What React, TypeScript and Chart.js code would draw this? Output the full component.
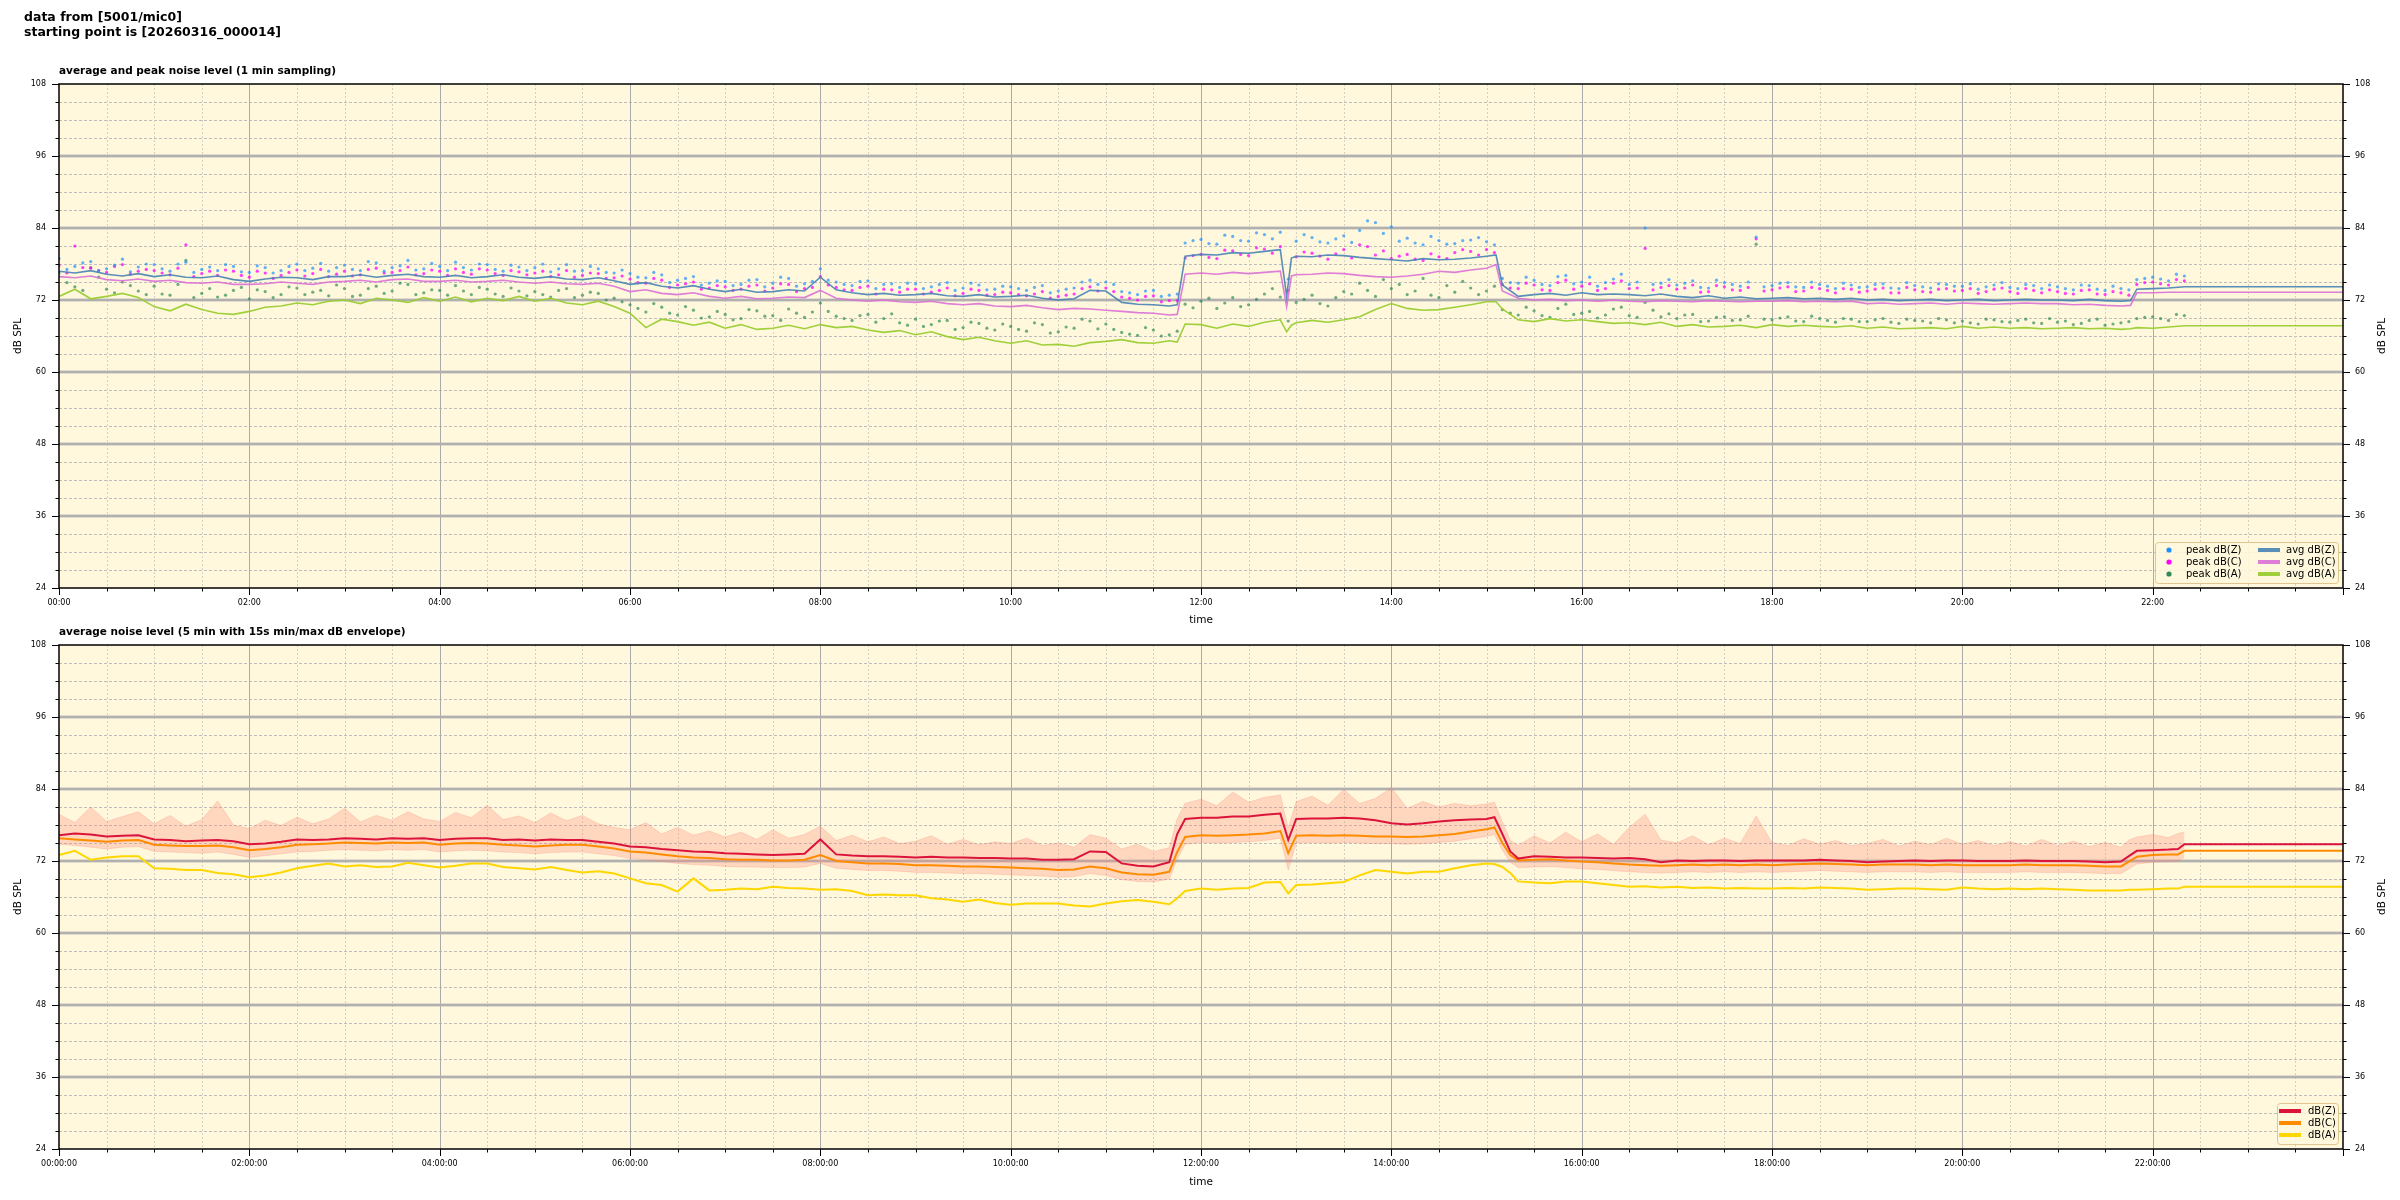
import React, { useEffect, useRef } from 'react';
import { Chart, registerables } from 'chart.js';
Chart.register(...registerables);

const FONT = '"DejaVu Sans", sans-serif';

// ---------- top panel (1 min sampling) — x in minutes after 00:00 ----------
const topMinutes = [
  0, 10, 20, 30, 40, 50,
  60, 70, 80, 90, 100, 110,
  120, 130, 140, 150, 160, 170,
  180, 190, 200, 210, 220, 230,
  240, 250, 260, 270, 280, 290,
  300, 310, 320, 330, 340, 350,
  360, 370, 380, 390, 400, 410,
  420, 430, 440, 450, 460, 470,
  480, 490, 500, 510, 520, 530,
  540, 550, 560, 570, 580, 590,
  600, 610, 620, 630, 640, 650,
  660, 670, 680, 690, 700, 705, 710,
  720, 730, 740, 750, 760, 770, 774, 777,
  780, 790, 800, 810, 820, 830,
  840, 850, 860, 870, 880, 890,
  900, 906, 910, 920, 930, 940, 950,
  960, 970, 980, 990, 1000, 1010,
  1020, 1030, 1040, 1050, 1060, 1070,
  1080, 1090, 1100, 1110, 1120, 1130,
  1140, 1150, 1160, 1170, 1180, 1190,
  1200, 1210, 1220, 1230, 1240, 1250,
  1260, 1270, 1280, 1290, 1300, 1306, 1310,
  1320, 1330, 1340, 1440,
];
const avgZ = [
  76.8, 76.5, 76.9, 76.3, 76.0, 76.4,
  75.9, 76.2, 75.8, 75.7, 76.0, 75.4,
  75.1, 75.5, 75.8, 75.7, 75.4, 75.9,
  75.9, 76.2, 75.8, 76.1, 76.3, 75.9,
  75.8, 76.1, 75.7, 75.9, 76.2, 75.8,
  75.6, 75.9, 75.5, 75.4, 75.7, 75.2,
  74.6, 74.9, 74.3, 74.0, 74.4, 73.8,
  73.4, 73.8, 73.3, 73.4, 73.7, 73.5,
  75.8, 73.7, 73.2, 72.9, 73.1, 72.8,
  72.9, 73.1, 72.7, 72.6, 72.9, 72.5,
  72.6, 72.8, 72.3, 72.0, 72.2, 73.6,
  73.5, 71.6, 71.3, 71.2, 71.0, 71.2, 79.3,
  79.6, 79.5, 79.9, 79.8, 80.1, 80.4, 72.6, 79.0,
  79.3, 79.2, 79.5, 79.4, 79.1, 78.9,
  78.7, 78.5, 78.9, 78.7, 78.8, 79.0,
  79.3, 79.5, 74.5, 72.6, 72.9, 73.1, 72.8,
  73.2, 72.9, 73.0, 72.9, 72.7, 73.0,
  72.6, 72.4, 72.7, 72.3, 72.5, 72.2,
  72.3, 72.4, 72.2, 72.3, 72.1, 72.3,
  72.0, 72.1, 71.9, 72.0, 72.1, 71.9,
  72.0, 72.1, 71.9, 72.0, 72.1, 72.0,
  72.0, 71.9, 72.1, 71.9, 71.8, 71.9, 73.8,
  73.9, 74.0, 74.2, 74.2,
];
const avgC = [
  75.9, 75.7, 76.0, 75.4, 75.2, 75.5,
  75.1, 75.3, 74.9, 74.8, 75.0, 74.6,
  74.6, 74.7, 75.0, 74.8, 74.6, 75.0,
  75.1, 75.3, 75.0, 75.4, 75.5, 75.1,
  75.1, 75.3, 75.0, 75.1, 75.3, 75.0,
  74.8, 75.0, 74.7, 74.6, 74.8, 74.3,
  73.4, 73.7, 73.1, 72.9, 73.2, 72.6,
  72.3, 72.6, 72.2, 72.3, 72.5, 72.4,
  73.6, 72.3, 72.0, 71.8, 72.0, 71.7,
  71.6, 71.8, 71.4, 71.2, 71.4, 71.0,
  70.9, 71.1, 70.7, 70.4, 70.6, 70.5,
  70.3, 70.1, 69.9, 69.8, 69.5, 69.6, 76.3,
  76.5, 76.3, 76.6, 76.4, 76.6, 76.8, 70.9, 76.0,
  76.2, 76.3, 76.5, 76.4, 76.1, 75.9,
  75.8, 76.0, 76.3, 76.8, 76.6, 77.0,
  77.3, 77.9, 73.5, 72.3, 72.0, 72.1, 71.9,
  72.0, 71.8, 72.0, 71.8, 71.7, 71.9,
  71.8, 71.7, 71.9, 71.8, 71.7, 71.8,
  71.8, 71.9, 71.7, 71.8, 71.7, 71.8,
  71.4, 71.5, 71.3, 71.4, 71.5, 71.3,
  71.5, 71.4, 71.3, 71.4, 71.5, 71.4,
  71.4, 71.2, 71.3, 71.1, 71.0, 71.1, 73.2,
  73.2, 73.3, 73.3, 73.3,
];
const avgA = [
  72.6, 73.8, 72.2, 72.6, 73.1, 72.4,
  70.9, 70.2, 71.3, 70.4, 69.8, 69.6,
  70.1, 70.8, 71.0, 71.5, 71.2, 71.8,
  72.0, 71.4, 72.3, 72.0, 71.6, 72.4,
  71.8, 72.5, 71.7, 72.3, 71.9, 72.6,
  71.8, 72.3, 71.5, 71.2, 71.8, 70.9,
  69.8, 67.4, 68.8, 68.4, 67.8, 68.3,
  67.3, 67.9, 67.1, 67.3, 67.8, 67.2,
  67.9, 67.4, 67.6, 67.0, 66.6, 66.9,
  66.2, 66.7, 65.9, 65.4, 65.8, 65.2,
  64.8, 65.2, 64.5, 64.6, 64.3, 64.9,
  65.1, 65.4, 64.9, 64.8, 65.2, 65.0, 68.0,
  67.9, 67.3, 68.0, 67.6, 68.3, 68.7, 66.7, 67.8,
  68.2, 68.6, 68.3, 68.7, 69.2, 70.4,
  71.4, 70.6, 70.3, 70.4, 70.8, 71.2,
  71.7, 71.7, 70.5, 68.7, 68.4, 68.9, 68.5,
  68.7, 68.4, 68.1, 68.2, 67.9, 68.3,
  67.6, 67.9, 67.5, 67.6, 67.8, 67.4,
  67.9, 67.6, 67.8, 67.6, 67.5, 67.7,
  67.3, 67.5, 67.2, 67.3, 67.4, 67.2,
  67.6, 67.3, 67.5, 67.3, 67.4, 67.2,
  67.3, 67.4, 67.2, 67.3, 67.1, 67.2, 67.4,
  67.3, 67.5, 67.7, 67.7,
];

// peak values, one every 5 minutes from 00:00 to 22:20 (12 per hour)
const PEAK_STEP_MIN = 5;
const peakZ = [
  78.9, 77.1, 77.6, 78.2, 78.4, 76.9, 77.2, 77.8, 78.8, 76.7, 77.5, 78.0,
  77.9, 77.2, 76.8, 78.0, 78.3, 76.6, 77.1, 77.5, 76.9, 77.9, 77.6, 76.7,
  76.6, 77.7, 77.4, 76.5, 76.9, 77.6, 78.0, 76.9, 77.3, 78.1, 76.8, 77.4,
  77.8, 77.1, 76.9, 78.4, 78.2, 76.8, 77.4, 77.7, 78.6, 77.0, 77.2, 78.1,
  77.6, 76.9, 78.3, 77.4, 77.0, 78.0, 77.9, 77.1, 76.8, 77.8, 77.5, 76.9,
  77.4, 78.0, 76.7, 77.2, 77.9, 76.8, 76.9, 77.6, 77.2, 76.6, 76.5, 77.0,
  76.4, 75.8, 75.7, 76.6, 76.2, 74.9, 75.3, 75.6, 75.9, 74.5, 74.8, 75.2,
  75.1, 74.4, 74.6, 75.3, 75.4, 74.2, 74.8, 75.8, 75.6, 74.3, 74.7, 75.1,
  77.2, 75.3, 75.0, 74.6, 74.4, 75.1, 75.2, 73.9, 74.6, 74.7, 74.1, 74.8,
  74.7, 73.9, 74.2, 74.6, 74.9, 73.6, 74.0, 74.8, 74.5, 73.7, 73.8, 74.3,
  74.2, 73.9, 73.6, 74.1, 74.4, 73.2, 73.5, 73.8, 74.0, 75.0, 75.3, 74.6,
  75.0, 74.6, 73.4, 73.2, 72.9, 73.5, 73.6, 72.6, 72.8, 73.0, 81.5, 81.9,
  82.1, 81.4, 81.3, 82.8, 82.6, 81.9, 81.8, 83.2, 82.9, 82.2, 83.3, 75.5,
  81.8, 82.9, 82.4, 81.7, 81.5, 82.2, 82.7, 81.6, 83.6, 85.2, 84.9, 83.1,
  84.2, 81.8, 82.3, 81.5, 81.2, 82.6, 81.9, 81.3, 81.4, 81.9, 82.0, 82.4,
  81.7, 81.2, 75.6, 74.9, 74.8, 75.8, 75.3, 74.6, 74.4, 75.9, 76.1, 74.7,
  75.0, 75.8, 74.3, 74.9, 75.5, 76.3, 74.6, 75.0, 84.0, 74.6, 74.8, 75.4,
  74.5, 74.8, 75.2, 74.1, 74.0, 75.3, 74.9, 74.6, 74.3, 75.0, 82.5, 74.2,
  74.4, 74.8, 74.9, 74.2, 74.1, 75.0, 74.6, 74.3, 73.9, 74.8, 74.5, 74.1,
  74.2, 74.6, 74.7, 74.0, 73.9, 74.9, 74.4, 74.2, 74.0, 74.7, 74.6, 74.3,
  74.3, 74.7, 73.8, 74.2, 74.5, 74.9, 74.1, 73.9, 74.6, 74.4, 73.9, 74.5,
  74.2, 73.9, 73.7, 74.5, 74.4, 73.8, 73.6, 74.3, 73.9, 73.7, 75.4, 75.6,
  75.8, 75.5, 75.2, 76.3, 76.0,
];
const peakC = [
  77.8, 76.5, 81.0, 77.4, 77.3, 76.9, 76.6, 77.6, 77.9, 76.3, 76.8, 77.1,
  76.9, 76.5, 76.2, 77.3, 81.2, 75.9, 76.4, 76.8, 76.1, 77.0, 76.8, 76.1,
  75.8, 76.8, 76.5, 75.6, 76.1, 76.6, 77.0, 76.0, 76.4, 77.1, 75.9, 76.3,
  76.8, 76.0, 76.2, 77.1, 77.3, 76.5, 76.6, 76.9, 77.5, 76.2, 76.4, 77.0,
  76.8, 76.1, 77.2, 76.6, 76.3, 77.2, 77.0, 76.4, 76.1, 76.9, 76.7, 76.2,
  76.5, 76.8, 75.9, 76.2, 76.9, 75.8, 76.1, 76.5, 76.4, 75.6, 75.7, 76.0,
  75.5, 74.9, 74.8, 75.6, 75.3, 74.1, 74.5, 74.7, 75.0, 73.8, 74.0, 74.4,
  74.2, 73.6, 73.8, 74.3, 74.5, 73.5, 74.0, 74.7, 74.6, 73.4, 73.9, 74.1,
  75.9, 74.5, 74.1, 73.7, 73.6, 74.1, 74.3, 73.0, 73.8, 73.7, 73.3, 73.8,
  73.8, 73.0, 73.3, 73.6, 74.0, 72.7, 73.1, 73.8, 73.6, 72.8, 72.9, 73.3,
  73.2, 72.9, 72.7, 73.0, 73.4, 72.3, 72.6, 72.8, 73.0, 73.9, 74.2, 73.5,
  74.0, 73.4, 72.5, 72.3, 72.0, 72.6, 72.7, 71.7, 71.9, 71.9, 79.0, 79.4,
  79.6, 79.1, 78.9, 80.3, 80.2, 79.6, 79.4, 80.7, 80.5, 79.8, 80.9, 73.6,
  79.2, 80.0, 79.8, 79.3, 78.8, 79.7, 80.4, 79.0, 81.2, 80.9, 79.5, 80.2,
  78.9, 79.3, 79.6, 78.8, 78.6, 79.7, 79.2, 78.9, 79.9, 80.4, 80.1, 79.5,
  80.4, 79.9, 74.6, 74.0, 73.9, 74.8, 74.5, 73.7, 73.6, 74.9, 75.3, 73.8,
  74.3, 74.7, 73.6, 73.9, 74.8, 75.2, 73.9, 74.0, 80.6, 73.7, 74.1, 74.4,
  73.8, 74.0, 74.5, 73.3, 73.4, 74.4, 74.2, 73.7, 73.6, 74.1, 82.2, 73.5,
  73.7, 74.0, 74.2, 73.4, 73.5, 74.1, 73.9, 73.6, 73.2, 73.9, 73.8, 73.3,
  73.5, 73.8, 74.0, 73.2, 73.2, 74.1, 73.7, 73.4, 73.3, 73.8, 73.9, 73.5,
  73.6, 73.9, 73.1, 73.4, 73.8, 74.0, 73.4, 73.1, 73.9, 73.6, 73.2, 73.7,
  73.4, 73.1, 73.0, 73.6, 73.7, 73.0, 72.9, 73.4, 73.2, 72.8, 74.6, 74.9,
  75.0, 74.7, 74.5, 75.4, 75.2,
];
const peakA = [
  76.5, 74.9, 74.2, 73.6, 77.4, 75.8, 73.8, 73.2, 75.0, 74.4, 73.5, 72.9,
  74.3, 73.0, 72.8, 74.6, 78.6, 72.4, 73.1, 73.9, 72.5, 72.8, 73.6, 74.1,
  72.2, 73.7, 73.4, 72.4, 72.9, 74.2, 74.0, 72.9, 73.3, 73.6, 72.7, 74.5,
  73.9, 72.6, 72.8, 73.9, 74.3, 73.1, 73.5, 74.8, 74.6, 72.9, 73.2, 73.7,
  73.6, 72.8, 74.4, 73.5, 72.9, 74.1, 73.8, 73.0, 72.6, 74.0, 73.5, 72.7,
  73.4, 72.9, 72.5, 73.6, 73.9, 72.4, 72.8, 73.3, 73.1, 72.0, 72.3, 71.7,
  71.2, 70.6, 70.0, 71.4, 70.8, 69.8, 69.5, 70.9, 70.3, 69.0, 69.2, 70.1,
  69.6, 68.7, 68.9, 70.4, 70.2, 69.3, 69.4, 68.6, 70.5, 69.8, 69.1, 70.0,
  71.5, 70.1, 69.3, 68.9, 68.6, 69.4, 69.6, 68.3, 68.9, 69.7, 68.2, 67.8,
  68.8, 67.6, 67.9, 68.5, 68.6, 67.1, 67.4, 68.3, 68.1, 67.3, 67.0, 68.0,
  67.6, 67.1, 66.8, 68.2, 67.9, 66.5, 66.7, 67.5, 67.3, 68.8, 68.5, 67.2,
  68.0, 67.1, 66.6, 66.3, 66.1, 67.4, 67.0, 66.0, 66.2, 66.8, 71.3, 70.7,
  71.8, 72.3, 70.6, 71.5, 72.4, 70.9, 71.2, 72.1, 73.0, 73.9, 72.5, 68.5,
  71.6, 72.1, 72.8, 71.4, 71.0, 72.4, 73.4, 73.0, 74.8, 73.6, 72.6, 75.4,
  73.9, 74.6, 72.9, 73.5, 75.6, 72.8, 72.4, 74.4, 73.3, 75.1, 74.0, 72.9,
  73.5, 74.3, 70.4, 69.8, 69.5, 70.8, 70.2, 69.4, 69.1, 70.6, 71.3, 69.6,
  69.8, 70.1, 69.0, 69.5, 70.5, 70.8, 69.4, 69.1, 71.6, 70.3, 69.2, 69.7,
  68.9, 69.5, 69.6, 68.4, 68.5, 69.1, 69.2, 68.6, 68.7, 69.3, 81.3, 68.8,
  68.7, 69.0, 69.2, 68.5, 68.4, 69.3, 68.9, 68.6, 68.3, 68.9, 68.8, 68.4,
  68.4, 68.7, 68.9, 68.3, 68.1, 68.8, 68.6, 68.5, 68.2, 68.9, 68.7, 68.2,
  68.5, 68.2, 68.0, 68.8, 68.7, 68.4, 68.3, 68.6, 68.8, 68.2, 68.1, 68.9,
  68.3, 68.5, 67.9, 68.1, 68.6, 68.8, 67.8, 68.0, 68.2, 68.4, 68.9, 69.1,
  69.2, 68.9, 68.6, 69.6, 69.4,
];

// ---------- bottom panel (5 min with 15 s envelope) ----------
const botMinutes = [
  0, 10, 20, 30, 40, 50,
  60, 70, 80, 90, 100, 110,
  120, 130, 140, 150, 160, 170,
  180, 190, 200, 210, 220, 230,
  240, 250, 260, 270, 280, 290,
  300, 310, 320, 330, 340, 350,
  360, 370, 380, 390, 400, 410,
  420, 430, 440, 450, 460, 470,
  480, 490, 500, 510, 520, 530,
  540, 550, 560, 570, 580, 590,
  600, 610, 620, 630, 640, 650,
  660, 670, 680, 690, 700, 705, 710,
  720, 730, 740, 750, 760, 770, 775,
  780, 790, 800, 810, 820, 830,
  840, 850, 860, 870, 880, 890,
  900, 905, 910, 915, 920, 930, 940, 950,
  960, 970, 980, 990, 1000, 1010,
  1020, 1030, 1040, 1050, 1060, 1070,
  1080, 1090, 1100, 1110, 1120, 1130,
  1140, 1150, 1160, 1170, 1180, 1190,
  1200, 1210, 1220, 1230, 1240, 1250,
  1260, 1270, 1280, 1290, 1300, 1305, 1310,
  1320, 1330, 1336, 1340, 1440,
];
const dbZ = [
  76.3, 76.6, 76.4, 76.1, 76.2, 76.3,
  75.6, 75.5, 75.3, 75.4, 75.5, 75.3,
  74.8, 74.9, 75.2, 75.6, 75.5, 75.6,
  75.8, 75.7, 75.6, 75.8, 75.7, 75.8,
  75.5, 75.7, 75.8, 75.8, 75.5, 75.6,
  75.4, 75.6, 75.5, 75.5, 75.2, 74.9,
  74.4, 74.3, 74.0, 73.8, 73.6, 73.5,
  73.3, 73.2, 73.1, 73.0, 73.1, 73.2,
  75.6, 73.1, 72.9, 72.8, 72.8, 72.7,
  72.6, 72.7, 72.6, 72.6, 72.5, 72.5,
  72.4, 72.4, 72.2, 72.2, 72.3, 73.6,
  73.5, 71.6, 71.2, 71.1, 71.8, 76.5, 79.0,
  79.2, 79.2, 79.4, 79.4, 79.7, 79.9, 75.5,
  79.0, 79.1, 79.1, 79.2, 79.1, 78.8,
  78.3, 78.1, 78.3, 78.6, 78.8, 78.9,
  79.0, 79.3, 76.5, 73.6, 72.4, 72.8, 72.7, 72.6,
  72.6, 72.5, 72.4, 72.5, 72.3, 71.8,
  72.1, 72.0, 72.1, 72.1, 72.0, 72.1,
  72.1, 72.1, 72.1, 72.2, 72.1, 72.0,
  71.8, 71.9, 72.0, 72.1, 72.0, 72.1,
  72.1, 72.0, 72.0, 72.0, 72.1, 72.0,
  72.0, 72.0, 71.9, 71.8, 71.9, 72.8, 73.7,
  73.8, 73.9, 74.0, 74.8, 74.8,
];
const dbC = [
  75.8, 75.6, 75.4, 75.2, 75.4, 75.5,
  74.7, 74.6, 74.5, 74.5, 74.6, 74.3,
  73.8, 74.0, 74.3, 74.7, 74.8, 74.9,
  75.1, 75.0, 74.9, 75.1, 75.0, 75.1,
  74.7, 74.9, 75.0, 74.9, 74.7, 74.6,
  74.4, 74.6, 74.7, 74.7, 74.4, 74.1,
  73.6, 73.4, 73.1, 72.8, 72.6, 72.5,
  72.3, 72.2, 72.2, 72.1, 72.1, 72.2,
  73.0, 72.0, 71.8, 71.6, 71.6, 71.5,
  71.3, 71.3, 71.2, 71.1, 71.1, 71.0,
  70.9, 70.8, 70.7, 70.5, 70.6, 71.1,
  70.8, 70.1, 69.8, 69.7, 70.2, 73.5, 76.0,
  76.3, 76.2, 76.3, 76.4, 76.6, 77.0, 73.3,
  76.2, 76.3, 76.2, 76.3, 76.2, 76.1,
  76.1, 76.0, 76.1, 76.3, 76.5, 76.9,
  77.3, 77.6, 75.0, 73.0, 72.1, 72.2, 72.3, 72.1,
  71.9, 71.8, 71.6, 71.4, 71.3, 71.2,
  71.3, 71.4, 71.3, 71.4, 71.3, 71.4,
  71.3, 71.4, 71.5, 71.6, 71.5, 71.4,
  71.3, 71.4, 71.4, 71.4, 71.3, 71.4,
  71.3, 71.3, 71.3, 71.3, 71.4, 71.3,
  71.3, 71.3, 71.2, 71.1, 71.1, 71.9, 72.7,
  73.0, 73.1, 73.1, 73.7, 73.7,
];
const dbA = [
  73.0, 73.7, 72.2, 72.6, 72.8, 72.8,
  70.8, 70.7, 70.5, 70.5, 70.0, 69.8,
  69.3, 69.6, 70.1, 70.8, 71.2, 71.6,
  71.1, 71.3, 71.0, 71.1, 71.7, 71.3,
  70.9, 71.2, 71.6, 71.6, 71.0, 70.8,
  70.6, 71.0, 70.5, 70.1, 70.3, 69.9,
  69.1, 68.3, 68.0, 66.9, 69.1, 67.1,
  67.2, 67.4, 67.3, 67.7, 67.5, 67.4,
  67.2, 67.3, 67.0, 66.3, 66.4, 66.3,
  66.3, 65.8, 65.6, 65.2, 65.6, 65.0,
  64.7, 64.9, 64.9, 64.9, 64.6, 64.4,
  64.9, 65.3, 65.5, 65.2, 64.8, 65.8, 67.0,
  67.4, 67.2, 67.4, 67.5, 68.4, 68.5, 66.6,
  68.0, 68.1, 68.3, 68.5, 69.6, 70.5,
  70.2, 69.9, 70.2, 70.2, 70.8, 71.3,
  71.6, 71.5, 71.0, 70.0, 68.6, 68.4, 68.3, 68.6,
  68.6, 68.3, 68.0, 67.7, 67.8, 67.6,
  67.7, 67.5, 67.6, 67.4, 67.5, 67.4,
  67.4, 67.5, 67.4, 67.6, 67.5, 67.4,
  67.2, 67.3, 67.4, 67.4, 67.3, 67.2,
  67.6, 67.4, 67.3, 67.4, 67.3, 67.4,
  67.3, 67.2, 67.1, 67.1, 67.1, 67.2, 67.2,
  67.3, 67.4, 67.4, 67.7, 67.7,
];
const envMax = [
  79.8, 78.4, 81.0, 78.6, 79.4, 80.2,
  78.2, 79.6, 77.8, 78.9, 82.0, 78.0,
  77.4, 78.8, 77.9, 79.3, 78.2, 79.0,
  80.8, 78.5, 79.6, 78.8, 80.2, 79.0,
  78.6, 80.1, 79.2, 81.3, 78.9, 79.5,
  78.4, 80.0, 78.7, 79.6, 78.2, 77.6,
  77.2, 78.4, 76.5, 77.6, 76.3, 77.0,
  76.0, 76.8, 75.6, 77.2, 75.8, 76.4,
  77.8, 75.4, 76.3, 75.2, 76.0, 74.9,
  75.3, 76.2, 74.8, 75.6, 74.7, 75.2,
  74.9, 75.8, 74.6, 75.0, 74.3, 76.4,
  75.8, 74.0, 74.8, 73.6, 74.2, 79.0, 81.6,
  82.3, 81.2, 83.5, 81.8, 82.6, 83.0, 77.5,
  81.9, 82.8, 81.3, 83.9, 81.6, 82.4,
  84.2, 80.8, 81.9, 81.0, 81.6, 81.2,
  81.5, 81.8, 78.5, 75.4, 74.6, 76.2, 75.0, 76.8,
  75.2, 76.5, 74.8, 77.6, 79.8, 75.5,
  75.0, 76.2, 74.7, 75.8, 74.9, 79.5,
  75.1, 74.6, 75.7, 74.8, 75.4, 74.6,
  74.9, 75.6, 74.5, 75.3, 74.7, 75.8,
  74.8, 75.4, 74.6, 75.2, 74.5, 75.6,
  74.6, 75.3, 74.4, 75.1, 74.3, 75.5, 76.0,
  76.4, 75.9, 76.6, 76.8, null,
];
const envMin = [
  74.8, 74.6, 74.3, 74.0, 74.3, 74.4,
  73.6, 73.5, 73.4, 73.3, 73.5, 73.1,
  72.6, 72.9, 73.2, 73.5, 73.6, 73.8,
  73.9, 73.8, 73.7, 73.9, 73.8, 73.9,
  73.5, 73.7, 73.8, 73.7, 73.5, 73.4,
  73.2, 73.4, 73.5, 73.5, 73.2, 72.9,
  72.4, 72.2, 71.9, 71.6, 71.4, 71.3,
  71.1, 71.0, 71.0, 70.9, 70.9, 71.0,
  71.6, 70.8, 70.6, 70.4, 70.4, 70.3,
  70.1, 70.1, 70.0, 69.9, 69.9, 69.8,
  69.7, 69.6, 69.5, 69.3, 69.4, 69.9,
  69.6, 68.9, 68.6, 68.5, 69.0, 72.3, 74.8,
  75.1, 75.0, 75.1, 75.2, 75.4, 75.8, 70.5,
  75.0, 75.1, 75.0, 75.1, 75.0, 74.9,
  74.9, 74.8, 74.9, 75.1, 75.3, 75.7,
  76.1, 76.4, 73.8, 71.8, 70.9, 71.0, 71.1, 70.9,
  70.7, 70.6, 70.4, 70.2, 70.1, 70.0,
  70.1, 70.2, 70.1, 70.2, 70.1, 70.2,
  70.1, 70.2, 70.3, 70.4, 70.3, 70.2,
  70.1, 70.2, 70.2, 70.2, 70.1, 70.2,
  70.1, 70.1, 70.1, 70.1, 70.2, 70.1,
  70.1, 70.1, 70.0, 69.9, 69.9, 70.7, 71.5,
  71.8, 71.9, 71.9, 72.6, null,
];

// ---------- axes ----------
const Y_MIN = 24, Y_MAX = 108, Y_MAJOR = 12, Y_MINOR = 3;
const X_MIN = 0, X_MAX = 24, X_MAJOR = 2, X_MINOR = 0.5;
const xTickHours = [0, 2, 4, 6, 8, 10, 12, 14, 16, 18, 20, 22];
const yTickValues = [24, 36, 48, 60, 72, 84, 96, 108];

const TITLE_LINES = ['data from [5001/mic0]', 'starting point is [20260316_000014]'];
const TOP_TITLE = 'average and peak noise level (1 min sampling)';
const BOT_TITLE = 'average noise level (5 min with 15s min/max dB envelope)';

const pts = (mins: number[], ys: (number | null)[]) => mins.map((m, i) => ({ x: m / 60, y: ys[i] }));
const peakPts = (ys: number[]) => ys.map((y, i) => ({ x: (i * PEAK_STEP_MIN) / 60, y }));

const hhmm = (v: number, secs: boolean) => {
  const h = Math.floor(v + 1e-9);
  const m = Math.round((v - h) * 60);
  const s = String(h).padStart(2, '0') + ':' + String(m).padStart(2, '0');
  return secs ? s + ':00' : s;
};

type LegendItem = { label: string; color: string; kind: 'dot' | 'line' };

function makePlugin(opts: {
  id: string;
  title: string;
  suptitle: boolean;
  legendBox: [number, number, number, number];
  legendCols: { x: number; textX: number; items: LegendItem[] }[];
  legendRows: number[];
}) {
  return {
    id: opts.id,
    beforeDraw(chart: any) {
      const { ctx, chartArea: a } = chart;
      ctx.save();
      ctx.fillStyle = '#FFF8DC';
      ctx.fillRect(a.left, a.top, a.right - a.left, a.bottom - a.top);
      ctx.restore();
    },
    beforeDatasetsDraw(chart: any) {
      const { ctx, chartArea: a, scales } = chart;
      const xs = scales.x, ys = scales.y;
      ctx.save();
      ctx.lineWidth = 1;
      ctx.strokeStyle = '#BDBDBD';
      ctx.setLineDash([3, 2]);
      for (let v = Y_MIN + Y_MINOR; v < Y_MAX; v += Y_MINOR) {
        if (v % Y_MAJOR === 0) continue;
        const y = Math.round(ys.getPixelForValue(v)) + 0.5;
        ctx.beginPath(); ctx.moveTo(a.left, y); ctx.lineTo(a.right, y); ctx.stroke();
      }
      ctx.strokeStyle = '#D6D0C0';
      ctx.setLineDash([2, 2]);
      for (let h = X_MIN + X_MINOR; h < X_MAX; h += X_MINOR) {
        if (Math.abs(h % X_MAJOR) < 1e-6) continue;
        const x = Math.round(xs.getPixelForValue(h)) + 0.5;
        ctx.beginPath(); ctx.moveTo(x, a.top); ctx.lineTo(x, a.bottom); ctx.stroke();
      }
      ctx.setLineDash([]);
      ctx.strokeStyle = '#ABABAB';
      ctx.lineWidth = 1;
      for (let h = X_MIN + X_MAJOR; h < X_MAX; h += X_MAJOR) {
        const x = Math.round(xs.getPixelForValue(h)) + 0.5;
        ctx.beginPath(); ctx.moveTo(x, a.top); ctx.lineTo(x, a.bottom); ctx.stroke();
      }
      for (let v = Y_MIN + Y_MAJOR; v < Y_MAX; v += Y_MAJOR) {
        const y = Math.round(ys.getPixelForValue(v));
        ctx.strokeStyle = 'rgba(176,176,176,0.35)';
        ctx.lineWidth = 4;
        ctx.beginPath(); ctx.moveTo(a.left, y); ctx.lineTo(a.right, y); ctx.stroke();
        ctx.strokeStyle = '#B0B0B0';
        ctx.lineWidth = 2;
        ctx.beginPath(); ctx.moveTo(a.left, y); ctx.lineTo(a.right, y); ctx.stroke();
      }
      ctx.restore();
    },
    afterDraw(chart: any) {
      const { ctx, chartArea: a, scales } = chart;
      const xs = scales.x, ys = scales.y;
      ctx.save();
      ctx.strokeStyle = '#000';
      ctx.lineWidth = 1.5;
      ctx.strokeRect(a.left, a.top, a.right - a.left, a.bottom - a.top);
      ctx.lineWidth = 1;
      ctx.beginPath();
      for (let v = Y_MIN; v <= Y_MAX; v += Y_MINOR) {
        const len = v % Y_MAJOR === 0 ? 7 : 3.5;
        const y = Math.round(ys.getPixelForValue(v)) + 0.5;
        ctx.moveTo(a.left - len, y); ctx.lineTo(a.left, y);
        ctx.moveTo(a.right, y); ctx.lineTo(a.right + len, y);
      }
      for (let h = X_MIN; h <= X_MAX + 1e-6; h += X_MINOR) {
        const len = Math.abs(h % X_MAJOR) < 1e-6 ? 7 : 3.5;
        const x = Math.round(xs.getPixelForValue(h)) + 0.5;
        ctx.moveTo(x, a.bottom); ctx.lineTo(x, a.bottom + len);
      }
      ctx.stroke();
      ctx.fillStyle = '#000';
      ctx.textBaseline = 'middle';
      ctx.textAlign = 'left';
      if (opts.suptitle) {
        ctx.font = `bold 12.5px ${FONT}`;
        ctx.fillText(TITLE_LINES[0], 24, 18);
        ctx.fillText(TITLE_LINES[1], 24, 33);
      }
      ctx.font = `bold 10.5px ${FONT}`;
      ctx.fillText(opts.title, a.left, a.top - 13);
      ctx.font = `10.5px ${FONT}`;
      ctx.save();
      ctx.translate(2382, (a.top + a.bottom) / 2);
      ctx.rotate(-Math.PI / 2);
      ctx.textAlign = 'center';
      ctx.fillText('dB SPL', 0, 0);
      ctx.restore();
      const [lx0, ly0, lx1, ly1] = opts.legendBox;
      ctx.fillStyle = 'rgba(255,248,220,0.85)';
      ctx.strokeStyle = '#E2C48E';
      ctx.lineWidth = 1;
      ctx.beginPath();
      ctx.roundRect(lx0 + 0.5, ly0 + 0.5, lx1 - lx0, ly1 - ly0, 3);
      ctx.fill(); ctx.stroke();
      ctx.font = `10px ${FONT}`;
      opts.legendCols.forEach((col) => {
        col.items.forEach((it, i) => {
          const y = opts.legendRows[i];
          if (it.kind === 'dot') {
            ctx.fillStyle = it.color;
            ctx.beginPath(); ctx.arc(col.x, y, 2.6, 0, Math.PI * 2); ctx.fill();
          } else {
            ctx.strokeStyle = it.color;
            ctx.lineWidth = 4;
            ctx.beginPath(); ctx.moveTo(col.x, y); ctx.lineTo(col.x + 22, y); ctx.stroke();
          }
          ctx.fillStyle = '#000';
          ctx.textAlign = 'left';
          ctx.fillText(it.label, col.textX, y + 0.5);
        });
      });
      ctx.restore();
    },
  };
}

function scalesFor(secs: boolean, xAxisHeight: number, timePad: number) {
  const tickFont = { family: FONT, size: 8 };
  const titleFont = { family: FONT, size: 10.5 };
  const yAxis = (position: 'left' | 'right', width: number, pad: number, showTitle: boolean) => ({
    type: 'linear',
    position,
    min: Y_MIN,
    max: Y_MAX,
    afterBuildTicks: (s: any) => { s.ticks = yTickValues.map((v) => ({ value: v })); },
    afterFit: (s: any) => { s.width = width; },
    ticks: { font: tickFont, color: '#000', padding: pad, autoSkip: false },
    grid: { display: true, drawOnChartArea: false, drawTicks: false },
    border: { display: false },
    title: { display: showTitle, text: 'dB SPL', font: titleFont, color: '#000', padding: { top: 11.7, bottom: 0 } },
  });
  return {
    x: {
      type: 'linear',
      min: X_MIN,
      max: X_MAX,
      afterBuildTicks: (s: any) => { s.ticks = xTickHours.map((v) => ({ value: v })); },
      afterFit: (s: any) => { s.height = xAxisHeight; },
      ticks: { font: tickFont, color: '#000', padding: 10, autoSkip: false, maxRotation: 0, callback: (v: any) => hhmm(Number(v), secs) },
      grid: { display: true, drawOnChartArea: false, drawTicks: false },
      border: { display: false },
      title: { display: true, text: 'time', font: titleFont, color: '#000', padding: { top: 0, bottom: timePad } },
    },
    y: yAxis('left', 59, 13, true),
    y2: yAxis('right', 57, 12, false),
  };
}

const baseOptions = (padding: any, scales: any) => ({
  responsive: false,
  animation: false,
  devicePixelRatio: 1,
  layout: { padding },
  plugins: { legend: { display: false }, tooltip: { enabled: false }, title: { display: false } },
  elements: { point: { radius: 0 }, line: { tension: 0 } },
  scales,
});

const COL = {
  avgZ: 'rgba(70,130,180,0.9)',
  avgC: 'rgba(218,112,214,0.9)',
  avgA: 'rgba(154,205,50,0.95)',
  peakZ: 'rgba(30,144,255,0.7)',
  peakC: 'rgba(255,0,255,0.75)',
  peakA: 'rgba(46,139,87,0.7)',
  z: '#DC143C',
  c: '#FF8C00',
  a: '#FFD700',
};

export default function App() {
  const topRef = useRef<HTMLCanvasElement>(null);
  const botRef = useRef<HTMLCanvasElement>(null);

  useEffect(() => {
    const line = (label: string, mins: number[], ys: (number | null)[], color: string, width: number) => ({
      type: 'line', label, data: pts(mins, ys), borderColor: color, backgroundColor: color,
      borderWidth: width, pointRadius: 0, fill: false, spanGaps: false,
    });
    const dots = (label: string, ys: number[], color: string) => ({
      type: 'line', label, data: peakPts(ys), showLine: false, pointRadius: 1.6,
      pointBorderWidth: 0, pointBackgroundColor: color, borderColor: color, backgroundColor: color,
    });

    const top = new Chart(topRef.current as HTMLCanvasElement, {
      type: 'line',
      data: {
        datasets: [
          line('avg dB(Z)', topMinutes, avgZ, COL.avgZ, 1.6),
          line('avg dB(C)', topMinutes, avgC, COL.avgC, 1.6),
          line('avg dB(A)', topMinutes, avgA, COL.avgA, 1.6),
          dots('peak dB(Z)', peakZ, COL.peakZ),
          dots('peak dB(C)', peakC, COL.peakC),
          dots('peak dB(A)', peakA, COL.peakA),
        ] as any,
      },
      options: baseOptions({ top: 84, bottom: 570, left: 0, right: 0 }, scalesFor(false, 42, 3.7)) as any,
      plugins: [makePlugin({
        id: 'topDeco',
        title: TOP_TITLE,
        suptitle: true,
        legendBox: [2155, 542, 2338, 583],
        legendRows: [550, 562, 574],
        legendCols: [
          { x: 2169, textX: 2186, items: [
            { label: 'peak dB(Z)', color: '#1E90FF', kind: 'dot' },
            { label: 'peak dB(C)', color: '#FF00FF', kind: 'dot' },
            { label: 'peak dB(A)', color: '#2E8B57', kind: 'dot' },
          ] },
          { x: 2258, textX: 2286, items: [
            { label: 'avg dB(Z)', color: COL.avgZ, kind: 'line' },
            { label: 'avg dB(C)', color: COL.avgC, kind: 'line' },
            { label: 'avg dB(A)', color: COL.avgA, kind: 'line' },
          ] },
        ],
      })],
    });

    const bot = new Chart(botRef.current as HTMLCanvasElement, {
      type: 'line',
      data: {
        datasets: [
          line('dB(Z)', botMinutes, dbZ, COL.z, 2),
          line('dB(C)', botMinutes, dbC, COL.c, 2),
          line('dB(A)', botMinutes, dbA, COL.a, 2),
          { type: 'line', label: 'env max', data: pts(botMinutes, envMax), borderColor: 'rgba(250,128,114,0.25)', borderWidth: 1, pointRadius: 0, fill: '+1', backgroundColor: 'rgba(250,128,114,0.28)' },
          { type: 'line', label: 'env min', data: pts(botMinutes, envMin), borderColor: 'rgba(250,128,114,0.25)', borderWidth: 1, pointRadius: 0, fill: false },
        ] as any,
      },
      options: baseOptions({ top: 645, bottom: 0, left: 0, right: 0 }, scalesFor(true, 51, 11.7)) as any,
      plugins: [makePlugin({
        id: 'botDeco',
        title: BOT_TITLE,
        suptitle: false,
        legendBox: [2277, 1103, 2338, 1144],
        legendRows: [1111, 1123, 1135],
        legendCols: [
          { x: 2279, textX: 2308, items: [
            { label: 'dB(Z)', color: COL.z, kind: 'line' },
            { label: 'dB(C)', color: COL.c, kind: 'line' },
            { label: 'dB(A)', color: COL.a, kind: 'line' },
          ] },
        ],
      })],
    });

    return () => { top.destroy(); bot.destroy(); };
  }, []);

  const cv: React.CSSProperties = { position: 'absolute', left: 0, top: 0, width: 2400, height: 1200 };
  return (
    <div style={{ position: 'absolute', left: 0, top: 0, width: 2400, height: 1200, background: '#fff', overflow: 'hidden' }}>
      <canvas ref={topRef} width={2400} height={1200} style={cv} />
      <canvas ref={botRef} width={2400} height={1200} style={cv} />
    </div>
  );
}
